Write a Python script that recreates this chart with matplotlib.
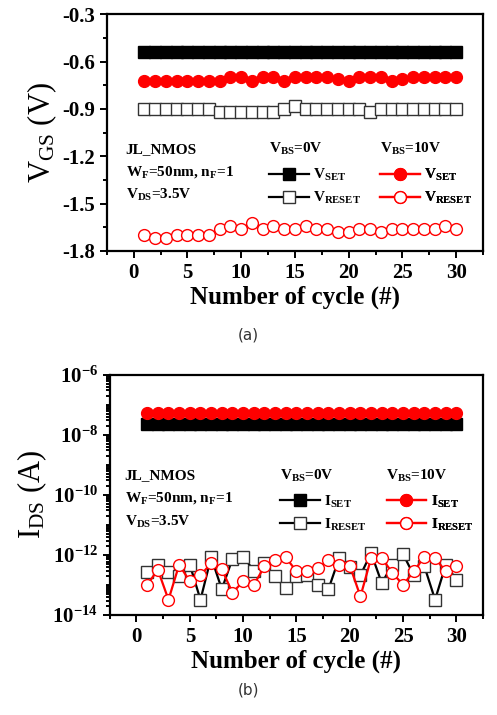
import numpy as np
import matplotlib
matplotlib.use("Agg")
import matplotlib.pyplot as plt
from matplotlib.lines import Line2D
from matplotlib.ticker import MultipleLocator, FixedLocator, LogLocator, NullFormatter

plt.rcParams["font.family"] = "Liberation Serif"
plt.rcParams["font.weight"] = "bold"
plt.rcParams["axes.unicode_minus"] = False
plt.rcParams["mathtext.fontset"] = "custom"
plt.rcParams["mathtext.rm"] = "Liberation Serif:bold"
plt.rcParams["mathtext.it"] = "Liberation Serif:bold"
plt.rcParams["mathtext.bf"] = "Liberation Serif:bold"

# ---- data ----
cycle = np.arange(1, 31)

vset_0v = [-0.54] * 30
vset_10v = [-0.72, -0.72, -0.72, -0.72, -0.72, -0.72, -0.72, -0.72, -0.70, -0.70,
            -0.72, -0.70, -0.70, -0.72, -0.70, -0.70, -0.70, -0.70, -0.71, -0.72,
            -0.70, -0.70, -0.70, -0.72, -0.71, -0.70, -0.70, -0.70, -0.70, -0.70]
vreset_0v = [-0.90, -0.90, -0.90, -0.90, -0.90, -0.90, -0.90, -0.92, -0.92, -0.92,
             -0.92, -0.92, -0.92, -0.90, -0.88, -0.90, -0.90, -0.90, -0.90, -0.90,
             -0.90, -0.92, -0.90, -0.90, -0.90, -0.90, -0.90, -0.90, -0.90, -0.90]
vreset_10v = [-1.70, -1.72, -1.72, -1.70, -1.70, -1.70, -1.70, -1.66, -1.64, -1.66,
              -1.62, -1.66, -1.64, -1.66, -1.66, -1.64, -1.66, -1.66, -1.68, -1.68,
              -1.66, -1.66, -1.68, -1.66, -1.66, -1.66, -1.66, -1.66, -1.64, -1.66]

iset_0v = [2.3e-8] * 30
iset_10v = [5.3e-8] * 30
ireset_0v = [2.6e-13, 4.7e-13, 2.6e-13, 1.9e-13, 4.7e-13, 3.2e-14, 8.3e-13, 7.2e-14, 7.4e-13, 8.7e-13,
             3.0e-13, 5.2e-13, 1.9e-13, 7.8e-14, 1.9e-13, 2.1e-13, 1.0e-13, 7.2e-14, 7.8e-13, 4.0e-13,
             2.1e-13, 1.15e-12, 1.15e-13, 4.7e-13, 1.05e-12, 2.1e-13, 4.1e-13, 3.2e-14, 4.7e-13, 1.5e-13]
ireset_10v = [1.0e-13, 3.2e-13, 3.2e-14, 4.7e-13, 1.3e-13, 2.1e-13, 5.2e-13, 3.3e-13, 5.5e-14, 1.3e-13,
              1.0e-13, 4.1e-13, 6.8e-13, 8.3e-13, 2.8e-13, 2.9e-13, 3.6e-13, 6.5e-13, 4.7e-13, 4.4e-13,
              4.1e-14, 7.8e-13, 7.8e-13, 2.5e-13, 1.0e-13, 2.8e-13, 8.7e-13, 7.8e-13, 2.8e-13, 4.4e-13]

RED = "#ff0000"
sq_f = dict(marker="s", color="black", mfc="black", mec="black", ms=8.5, lw=1.6)
sq_o = dict(marker="s", color="black", mfc="white", mec="#333333", ms=8, mew=1.0, lw=1.6)
ci_f = dict(marker="o", color=RED, mfc=RED, mec=RED, ms=8.5, lw=1.6)
ci_o = dict(marker="o", color=RED, mfc="white", mec=RED, ms=8.5, mew=1.0, lw=1.6)

fig = plt.figure(figsize=(4.97, 7.15), dpi=100)
ax1 = fig.add_axes([0.215, 0.649, 0.757, 0.331])
ax2 = fig.add_axes([0.221, 0.140, 0.751, 0.336])


def style(ax):
    for s in ax.spines.values():
        s.set_linewidth(1.6)
    ax.set_xlim(-2.5, 32.5)
    ax.xaxis.set_major_locator(MultipleLocator(5))
    ax.xaxis.set_minor_locator(MultipleLocator(2.5))
    ax.tick_params(which="both", direction="out", width=1.4, labelsize=15,
                   top=False, right=False)
    ax.tick_params(which="major", length=5)
    ax.tick_params(which="minor", length=3)
    ax.set_xlabel("Number of cycle (#)", fontsize=18, fontweight="bold", labelpad=2)


def legend_block(ax, x_left, y_head, y_rows, head, handles, labels):
    ax.text(x_left, y_head, head, transform=ax.transAxes, fontsize=11,
            va="center", ha="left")
    leg = ax.legend(handles, labels, loc="upper left", frameon=False,
                    bbox_to_anchor=(x_left - 0.015, y_rows), fontsize=11,
                    handlelength=2.6, handletextpad=0.3, labelspacing=0.45,
                    borderaxespad=0)
    ax.add_artist(leg)


# ---- (a) ----
ax1.plot(cycle, vset_0v, **sq_f)
ax1.plot(cycle, vreset_0v, **sq_o)
ax1.plot(cycle, vset_10v, **ci_f)
ax1.plot(cycle, vreset_10v, **ci_o)
style(ax1)
ax1.set_ylim(-1.8, -0.3)
ax1.yaxis.set_major_locator(MultipleLocator(0.3))
ax1.yaxis.set_minor_locator(MultipleLocator(0.15))
ax1.set_ylabel(r"$\mathregular{V_{GS}}$ (V)", fontsize=22, labelpad=2)

for y, t in [(0.43, "JL_NMOS"), (0.335, r"W$\mathregular{_F}$=50nm, n$\mathregular{_F}$=1"),
             (0.235, r"V$\mathregular{_{DS}}$=3.5V")]:
    ax1.text(0.05, y, t, transform=ax1.transAxes, fontsize=11, va="center")
legend_block(ax1, 0.43, 0.43, 0.38, r"V$\mathregular{_{BS}}$=0V",
             [Line2D([], [], **sq_f), Line2D([], [], **sq_o)],
             [r"V$\mathregular{_{SET}}$", r"V$\mathregular{_{RESET}}$"])
legend_block(ax1, 0.725, 0.43, 0.38, r"V$\mathregular{_{BS}}$=10V",
             [Line2D([], [], **ci_f), Line2D([], [], **ci_o)],
             [r"V$\mathregular{_{SET}}$", r"V$\mathregular{_{RESET}}$"])

# ---- (b) ----
ax2.plot(cycle, iset_0v, **sq_f)
ax2.plot(cycle, ireset_0v, **sq_o)
ax2.plot(cycle, iset_10v, **ci_f)
ax2.plot(cycle, ireset_10v, **ci_o)
ax2.set_yscale("log")
style(ax2)
ax2.set_ylim(1e-14, 1e-6)
ax2.yaxis.set_major_locator(FixedLocator([1e-14, 1e-12, 1e-10, 1e-8, 1e-6]))
ax2.yaxis.set_minor_locator(LogLocator(base=10, subs=np.arange(1, 10), numticks=100))
ax2.yaxis.set_minor_formatter(NullFormatter())
ax2.set_yticklabels([r"$\mathregular{10^{-14}}$", r"$\mathregular{10^{-12}}$",
                     r"$\mathregular{10^{-10}}$", r"$\mathregular{10^{-8}}$",
                     r"$\mathregular{10^{-6}}$"])
ax2.tick_params(axis="y", labelsize=15)
ax2.set_ylabel(r"$\mathregular{I_{DS}}$ (A)", fontsize=22, labelpad=2)

for y, t in [(0.58, "JL_NMOS"), (0.485, r"W$\mathregular{_F}$=50nm, n$\mathregular{_F}$=1"),
             (0.385, r"V$\mathregular{_{DS}}$=3.5V")]:
    ax2.text(0.04, y, t, transform=ax2.transAxes, fontsize=11, va="center")
legend_block(ax2, 0.455, 0.58, 0.53, r"V$\mathregular{_{BS}}$=0V",
             [Line2D([], [], **sq_f), Line2D([], [], **sq_o)],
             [r"I$\mathregular{_{SET}}$", r"I$\mathregular{_{RESET}}$"])
legend_block(ax2, 0.74, 0.58, 0.53, r"V$\mathregular{_{BS}}$=10V",
             [Line2D([], [], **ci_f), Line2D([], [], **ci_o)],
             [r"I$\mathregular{_{SET}}$", r"I$\mathregular{_{RESET}}$"])

fig.text(0.5, 1 - 335 / 715, "(a)", ha="center", va="center", fontsize=11,
         family="DejaVu Sans", weight="normal", color="#333333")
fig.text(0.5, 1 - 690 / 715, "(b)", ha="center", va="center", fontsize=11,
         family="DejaVu Sans", weight="normal", color="#333333")

fig.savefig("out.png", dpi=100)
